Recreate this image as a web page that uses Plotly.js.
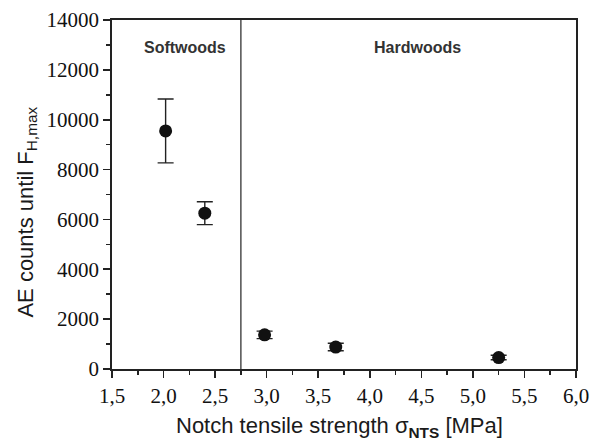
<!DOCTYPE html>
<html>
<head>
<meta charset="utf-8">
<script src="https://cdn.plot.ly/plotly-3.0.1.min.js"></script>
<style>html,body{margin:0;padding:0;background:#fff;}#chart{width:592px;height:441px;}</style>
</head>
<body>
<div id="chart"></div>
<script>
// Data
const strength = [2.02, 2.40, 2.98, 3.67, 5.25];          // sigma_NTS [MPa]
const aeCounts = [9550, 6250, 1370, 880, 460];            // AE counts until F_H,max
const aeError  = [1280, 460, 150, 150, 90];               // error bar half-length
const groupBoundary = 2.75;                                // softwoods | hardwoods
const groupLabels = ["Softwoods", "Hardwoods"];
const groupLabelX = [2.21, 4.46];
const xTickVals = [1.5, 2.0, 2.5, 3.0, 3.5, 4.0, 4.5, 5.0, 5.5, 6.0];
const xTickText = ["1,5", "2,0", "2,5", "3,0", "3,5", "4,0", "4,5", "5,0", "5,5", "6,0"];
const yTickVals = [0, 2000, 4000, 6000, 8000, 10000, 12000, 14000];
const yTickText = ["0", "2000", "4000", "6000", "8000", "10000", "12000", "14000"];
const xTitle = "Notch tensile strength σ<sub><b>NTS</b></sub> [MPa]";
const yTitle = "AE counts until F<sub>H,max</sub>";

const trace = {
  x: strength, y: aeCounts, type: "scatter", mode: "markers",
  marker: {color: "#111", size: 13, symbol: "circle"},
  error_y: {type: "data", array: aeError, visible: true, color: "#222", thickness: 1.4, width: 8},
  showlegend: false
};

const titleFont = {family: "Liberation Sans", size: 22, color: "#1a1a1a"};

const layout = {
  width: 592, height: 441,
  margin: {l: 112, r: 16, t: 20, b: 72},
  paper_bgcolor: "#fff", plot_bgcolor: "#fff",
  font: {family: "Liberation Serif", color: "#1a1a1a"},
  xaxis: {
    range: [1.5, 6.0], tickvals: xTickVals, ticktext: xTickText,
    ticks: "outside", ticklen: 7, tickwidth: 1.6, tickcolor: "#222",
    minor: {dtick: 0.25, ticks: "outside", ticklen: 4, tickwidth: 1.6, tickcolor: "#222", showgrid: false},
    showline: true, linecolor: "#222", linewidth: 1.8, mirror: true,
    showgrid: false, zeroline: false,
    tickfont: {family: "Liberation Serif", size: 21, color: "#111"}
  },
  yaxis: {
    range: [0, 14000], tickvals: yTickVals, ticktext: yTickText,
    ticks: "outside", ticklen: 7, tickwidth: 1.6, tickcolor: "#222",
    minor: {dtick: 1000, ticks: "outside", ticklen: 4, tickwidth: 1.6, tickcolor: "#222", showgrid: false},
    showline: true, linecolor: "#222", linewidth: 1.8, mirror: true,
    showgrid: false, zeroline: false,
    tickfont: {family: "Liberation Serif", size: 21, color: "#111"}
  },
  shapes: [{type: "line", xref: "x", yref: "paper", x0: groupBoundary, x1: groupBoundary, y0: 0, y1: 1,
            line: {color: "#333", width: 1.3}}],
  annotations: groupLabels.map((t, i) => ({
    text: "<b>" + t + "</b>", x: groupLabelX[i], xref: "x", y: 0.922, yref: "paper",
    xanchor: "center", yanchor: "middle", showarrow: false,
    font: {family: "Liberation Sans", size: 16, color: "#333"}
  })).concat([
    {text: xTitle, xref: "paper", yref: "paper", x: 0.49, y: -0.165, xanchor: "center", yanchor: "middle",
     showarrow: false, font: titleFont},
    {text: yTitle, xref: "paper", yref: "paper", x: -0.184, y: 0.45, xanchor: "center", yanchor: "middle",
     textangle: -90, showarrow: false, font: titleFont}
  ])
};

Plotly.newPlot("chart", [trace], layout, {staticPlot: true, displayModeBar: false});
</script>
</body>
</html>
